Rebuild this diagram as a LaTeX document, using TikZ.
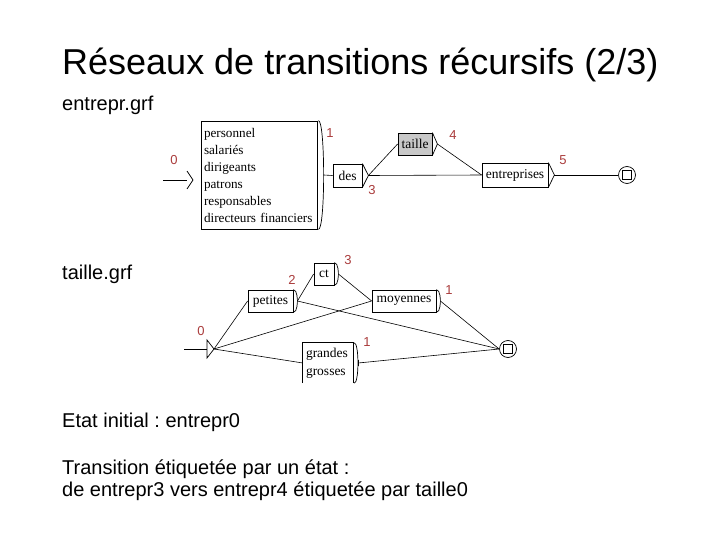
\documentclass[tikz,border=0pt]{standalone}
\usepackage{fontspec}
\setmainfont{Liberation Sans}
\newfontfamily\boxfont{Liberation Serif}
\definecolor{lblred}{RGB}{170,60,60}
\definecolor{boxgrey}{RGB}{200,200,200}
\frenchspacing
\begin{document}
\begin{tikzpicture}[x=1pt,y=-1pt,
  txt/.style={anchor=base west, font=\fontsize{20}{24}\selectfont, inner sep=0},
  gbox/.style={draw, line width=0.8pt, inner sep=0, font=\boxfont\fontsize{13.5}{17}\selectfont},
  lbl/.style={text=lblred, font=\fontsize{13}{13}\selectfont, inner sep=0},
  edge/.style={line width=0.6pt},
  brk/.style={line width=0.7pt},
  finst/.style={draw, circle, line width=0.7pt, minimum size=17pt, inner sep=0},
  finsq/.style={draw, line width=0.7pt, minimum size=9pt, inner sep=0}
]
\useasboundingbox (0,0) rectangle (720,540);
\fill[white] (0,0) rectangle (720,540);

% ---- texts ----
\node[anchor=base west, font=\fontsize{36}{40}\selectfont, inner sep=0] (title) at (62,75) {Réseaux de transitions récursifs (2/3)};
\node[txt] (t1) at (62,111) {entrepr.grf};
\node[txt] (t2) at (62,279) {taille.grf};
\node[txt] (t3) at (62,427) {Etat initial : entrepr0};
\node[txt] (t4) at (62,474) {Transition étiquetée par un état :};
\node[txt] (t5) at (62,496) {de entrepr3 vers entrepr4 étiquetée par taille0};

% ---- entrepr.grf ----
\coordinate (e0s) at (163,180);
\coordinate (e0t) at (193,180);
\draw[edge] (e0s) -- (187,180);
\draw[brk] (187,171) -- (e0t) -- (187,189);
\node[lbl] (l0) at (174,160) {0};

\node[gbox, minimum width=116pt, minimum height=108pt, text width=110pt, align=left,
      font=\boxfont\fontsize{13.2}{17}\selectfont] (b1) at (259,175)
  {personnel\\salariés\\dirigeants\\patrons\\responsables\\\mbox{directeurs financiers}};
\coordinate (b1t) at ([xshift=6pt]b1.east);
\draw[brk] ([xshift=1pt]b1.north east) .. controls ([xshift=8pt]b1.north east) and ([xshift=8pt]b1.south east) .. ([xshift=1pt]b1.south east);
\node[lbl] (l1) at (330,133) {1};

\node[gbox, minimum width=29pt, minimum height=23pt] (des) at (347.5,175.5) {des};
\coordinate (dest) at ([xshift=6pt]des.east);
\draw[brk] (des.north east) -- (dest) -- (des.south east);
\node[lbl] (l3) at (372,190) {3};

\node[gbox, fill=boxgrey, minimum width=34pt, minimum height=22pt] (tai) at (415,144) {taille};
\coordinate (tait) at ([xshift=5pt]tai.east);
\draw[brk] (tai.north east) -- (tait) -- (tai.south east);
\node[lbl] (l4) at (453,135) {4};

\node[gbox, minimum width=66pt, minimum height=24pt] (ent) at (515,175) {entreprises};
\coordinate (entt) at ([xshift=6pt]ent.east);
\draw[brk] (ent.north east) -- (entt) -- (ent.south east);
\node[lbl] (l5) at (563,160) {5};

\node[finst] (f1) at (627,175) {};
\node[finsq] (f1s) at (f1) {};

\draw[edge] (b1t) -- (des.west);
\draw[edge] (dest) -- (tai.west);
\draw[edge] (dest) -- (ent.west);
\draw[edge] (tait) -- (ent.west);
\draw[edge] (entt) -- (f1.west);

% ---- taille.grf ----
\coordinate (i0s) at (184,349);
\coordinate (i0t) at (214,349);
\draw[edge] (i0s) -- (207,349);
\draw[brk] (207,340) -- (i0t) -- (207,358) -- cycle;
\node[lbl] (m0) at (201,331) {0};

\node[gbox, minimum width=45pt, minimum height=22pt] (pet) at (270.5,301) {petites};
\coordinate (pett) at ([xshift=4pt]pet.east);
\draw[brk] (pet.north east) .. controls ([xshift=4pt]pet.north east) and (pett) .. (pett) .. controls (pett) and ([xshift=4pt]pet.south east) .. (pet.south east);
\node[lbl] (m2) at (292,280) {2};

\node[gbox, minimum width=20pt, minimum height=22pt] (ct) at (324,274) {ct};
\coordinate (ctt) at ([xshift=4pt]ct.east);
\draw[brk] (ct.north east) .. controls ([xshift=4pt]ct.north east) and (ctt) .. (ctt) .. controls (ctt) and ([xshift=4pt]ct.south east) .. (ct.south east);
\node[lbl] (m3) at (348,260) {3};

\node[gbox, minimum width=64pt, minimum height=22pt] (moy) at (404,301) {moyennes};
\coordinate (moyt) at ([xshift=4pt]moy.east);
\draw[brk] (moy.north east) .. controls ([xshift=4pt]moy.north east) and (moyt) .. (moyt) .. controls (moyt) and ([xshift=4pt]moy.south east) .. (moy.south east);
\node[lbl] (m1a) at (449,290) {1};

\node[inner sep=0, minimum width=50pt, minimum height=40pt, text width=44pt, align=left, font=\boxfont\fontsize{13.5}{18}\selectfont] (gra) at (328,363) {grandes\\grosses};
\draw[line width=0.8pt] (gra.south west) -- (gra.north west) -- (gra.north east) -- (gra.south east);
\coordinate (grat) at ([xshift=5pt]gra.east);
\draw[brk] ([xshift=1pt]gra.north east) .. controls ([xshift=6pt]gra.north east) and ([xshift=6pt]gra.south east) .. ([xshift=1pt]gra.south east);
\draw[brk] ([yshift=-3pt]grat) -- ([yshift=3pt]grat);
\node[lbl] (m1b) at (367,342) {1};

\node[finst] (f2) at (508,349) {};
\node[finsq] (f2s) at (f2) {};

\draw[edge] (i0t) -- (pet.west);
\draw[edge] (i0t) -- (moy.west);
\draw[edge] (i0t) -- (gra.west);
\draw[edge] (pett) -- (ct.west);
\draw[edge] (ctt) -- (moy.west);
\draw[edge] (pett) -- (f2.west);
\draw[edge] (moyt) -- (f2.west);
\draw[edge] (grat) -- (f2.west);
\end{tikzpicture}
\end{document}
